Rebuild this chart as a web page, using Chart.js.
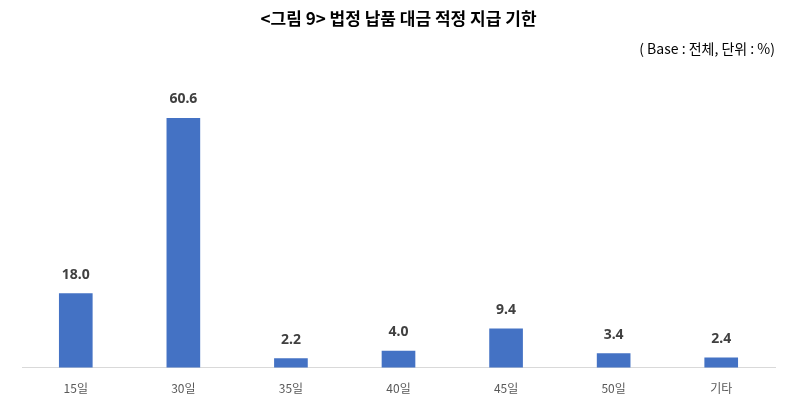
<!DOCTYPE html>
<html>
<head>
<meta charset="utf-8">
<script src="https://cdn.jsdelivr.net/npm/chart.js@4"></script>
<style>
  body { margin: 0; background: #fff; }
  #wrap { width: 800px; height: 417px; }
</style>
</head>
<body>
<div id="wrap"><canvas id="chart"></canvas></div>
<script>
const categories = ["15일", "30일", "35일", "40일", "45일", "50일", "기타"];
const values = [18.0, 60.6, 2.2, 4.0, 9.4, 3.4, 2.4];
const titleText = "<그림 9> 법정 납품 대금 적정 지급 기한";
const noteText = "( Base : 전체, 단위 : %)";

// values above bars
const valueLabels = {
    id: "valueLabels",
    afterDatasetsDraw(chart) {
        const ctx = chart.ctx;
        const meta = chart.getDatasetMeta(0);
        ctx.save();
        ctx.font = "bold 14px 'Noto Sans', 'Noto Sans CJK KR'";
        ctx.fillStyle = "#404040";
        ctx.textAlign = "center";
        ctx.textBaseline = "bottom";
        meta.data.forEach((bar, i) => {
            ctx.fillText(values[i].toFixed(1), bar.x, bar.y - 12);
        });
        ctx.restore();
    }
};

new Chart(document.getElementById("chart"), {
    type: "bar",
    data: {
        labels: categories,
        datasets: [{
            data: values,
            backgroundColor: "#4472C4",
            barThickness: 33
        }]
    },
    options: {
        responsive: true,
        maintainAspectRatio: false,
        animation: false,
        layout: { padding: { left: 22, right: 25, top: 0, bottom: 15 } },
        plugins: {
            legend: { display: false },
            tooltip: { enabled: false },
            title: {
                display: true,
                text: titleText,
                color: "#000",
                font: { size: 17, weight: "bold", family: "'Noto Sans CJK KR'" },
                padding: { top: 8, bottom: 12 }
            },
            subtitle: {
                display: true,
                text: noteText,
                align: "end",
                color: "#000",
                font: { size: 14, family: "'Noto Sans CJK KR'" },
                padding: { bottom: 20 }
            }
        },
        scales: {
            x: {
                grid: { display: false },
                border: { color: "#d9d9d9" },
                ticks: { color: "#595959", font: { size: 12, family: "'Noto Sans CJK KR'" }, padding: 6 }
            },
            y: {
                display: false,
                min: 0,
                max: 70.6
            }
        }
    },
    plugins: [valueLabels]
});
</script>
</body>
</html>
